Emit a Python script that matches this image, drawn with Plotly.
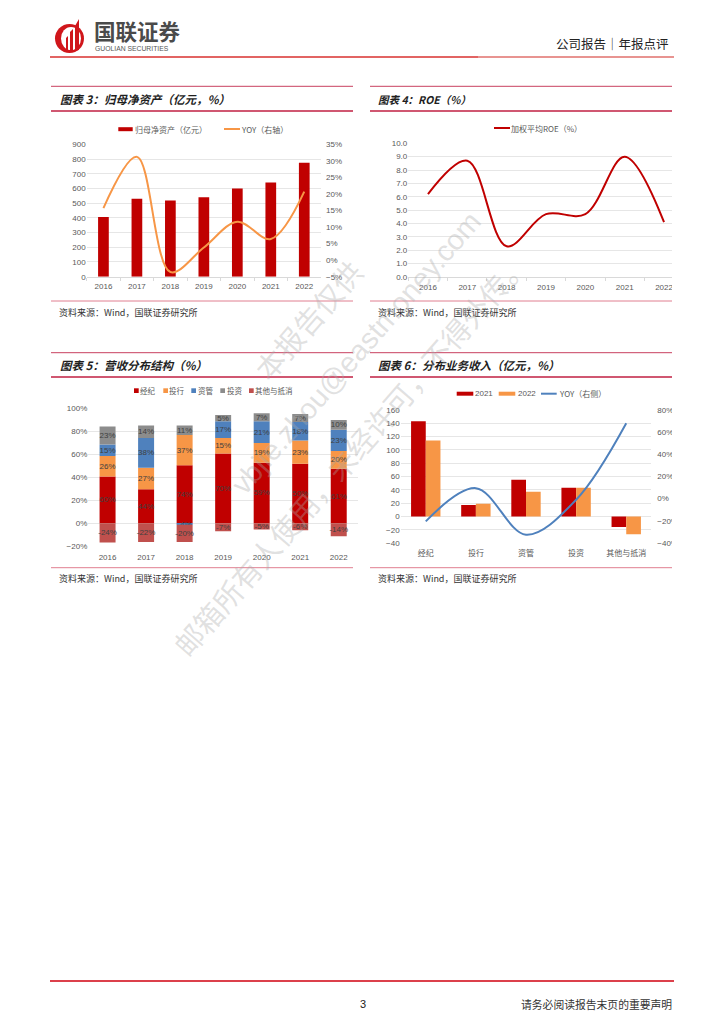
import plotly.graph_objects as go

W, H = 724, 1024
CJK = "Noto Sans CJK SC"
LAT = "Liberation Sans, Noto Sans CJK SC"
RED, ORANGE, BLUE, GRAY, ROSE = "#C00000", "#F79646", "#4F81BD", "#8C8C8C", "#C0504D"
TXT, GRID = "#595959", "#E6E6E6"

years = ["2016", "2017", "2018", "2019", "2020", "2021", "2022"]

# Chart 3
net_assets = [405, 530, 518, 540, 600, 640, 775]
net_assets_yoy = [15.7, 31.2, -3.6, 3.8, 11.6, 6.4, 20.7]
# Chart 4
roe = [6.2, 8.7, 2.3, 4.7, 4.7, 9.0, 4.1]
# Chart 5 (bar heights as drawn, and the labels printed on them)
s_brokerage = [40.6, 29.6, 50.4, 60.6, 52.5, 51.6, 47.2]
s_ib = [17.7, 18.5, 26.1, 13.3, 17.1, 20.3, 15.4]
s_am = [10.1, 25.8, -1.2, 14.5, 18.8, 15.9, 18.6]
s_inv = [15.6, 11.0, 8.4, 5.5, 7.0, 7.0, 8.4]
s_other = [-16.8, -16.2, -15.0, -7.0, -5.5, -6.0, -11.3]
l_brokerage = ["60%", "44%", "74%", "70%", "59%", "50%", "61%"]
l_ib = ["26%", "27%", "37%", "15%", "19%", "23%", "20%"]
l_am = ["15%", "38%", "-4%", "17%", "21%", "18%", "23%"]
l_inv = ["23%", "14%", "11%", "5%", "7%", "7%", "10%"]
l_other = ["-24%", "-22%", "-20%", "-7%", "-5%", "-6%", "-14%"]
# Chart 6
biz = ["经纪", "投行", "资管", "投资", "其他与抵消"]
rev_2021 = [143, 17, 55, 43, -16]
rev_2022 = [114, 19, 37, 43, -27]
rev_yoy = [-20.5, 9.5, -32.5, -1.0, 68.0]


def X(p):
    return p / W


def Y(p):
    return 1 - p / H


fig = go.Figure()

# ---------- Chart 3
fig.add_trace(go.Bar(x=years, y=net_assets, name="归母净资产（亿元）", marker_color=RED, width=0.32,
                     xaxis="x", yaxis="y"))
fig.add_trace(go.Scatter(x=years, y=net_assets_yoy, name="YOY（右轴）", mode="lines",
                         line=dict(color=ORANGE, width=2, shape="spline", smoothing=1.0),
                         xaxis="x", yaxis="y2"))
# ---------- Chart 4
fig.add_trace(go.Scatter(x=years, y=roe, name="加权平均ROE（%）", mode="lines",
                         line=dict(color=RED, width=2, shape="spline", smoothing=1.0),
                         xaxis="x3", yaxis="y3"))
# ---------- Chart 5
for nm, vals, labs, col in [("经纪", s_brokerage, l_brokerage, RED),
                            ("投行", s_ib, l_ib, ORANGE),
                            ("资管", s_am, l_am, BLUE),
                            ("投资", s_inv, l_inv, GRAY),
                            ("其他与抵消", s_other, l_other, ROSE)]:
    fig.add_trace(go.Bar(x=years, y=vals, name=nm, marker_color=col, text=labs, width=0.415,
                         textposition="inside", insidetextanchor="middle", textangle=0,
                         constraintext="none", cliponaxis=False,
                         insidetextfont=dict(family=LAT, size=8, color="#404040"),
                         xaxis="x4", yaxis="y4"))
# ---------- Chart 6 (each year on its own overlaid axis so the bars sit side by side)
fig.add_trace(go.Bar(x=biz, y=rev_2021, name="2021", marker_color=RED, width=0.293, offset=-0.293,
                     xaxis="x5", yaxis="y5"))
fig.add_trace(go.Bar(x=biz, y=rev_2022, name="2022", marker_color=ORANGE, width=0.293, offset=0,
                     xaxis="x5", yaxis="y6"))
fig.add_trace(go.Scatter(x=biz, y=rev_yoy, name="YOY（右侧）", mode="lines",
                         line=dict(color=BLUE, width=2, shape="spline", smoothing=1.0),
                         xaxis="x5", yaxis="y7"))

tick = dict(family=LAT, size=8, color=TXT)


def xax(x0, x1, n, **kw):
    d = dict(domain=[X(x0), X(x1)], anchor=kw.pop("anchor"), type="category", tickfont=tick,
             range=[-0.5, n - 0.5], autorange=False,
             showgrid=False, zeroline=False, showline=True, linecolor="#D9D9D9", linewidth=1,
             automargin=False)
    d.update(kw)
    return d


def yax(top, bot, rng, dt, **kw):
    d = dict(domain=[Y(bot), Y(top)], range=rng, dtick=dt, tick0=rng[0], tickfont=tick,
             showgrid=True, gridcolor=GRID, gridwidth=1, zeroline=False, showline=False,
             ticks="", automargin=False)
    d.update(kw)
    return d


layout = dict(
    template="none",
    width=W, height=H, margin=dict(l=0, r=0, t=0, b=0, pad=0), autosize=False,
    paper_bgcolor="white", plot_bgcolor="rgba(0,0,0,0)", showlegend=False,
    barmode="relative", font=dict(family=CJK, color=TXT),
    xaxis=xax(86.7, 321, 7, anchor="y", ticks="outside", tickson="boundaries",
              ticklen=3, tickcolor="#D9D9D9", ticklabelstandoff=2),
    yaxis=yax(144.3, 276.7, [0, 900], 100, anchor="x"),
    yaxis2=yax(144.3, 276.7, [-5, 35], 5, anchor="x", overlaying="y", side="right",
               showgrid=False, ticksuffix="%", ticklabelstandoff=4),
    xaxis3=xax(408.3, 683.7, 7, anchor="y3", ticks="outside", tickson="boundaries",
               ticklen=3, tickcolor="#D9D9D9", ticklabelstandoff=2),
    yaxis3=yax(143.3, 277, [0, 10], 1, anchor="x3", tickformat=".1f"),
    xaxis4=xax(88.3, 358, 7, anchor="y4", showline=False, ticklabelstandoff=5),
    yaxis4=yax(408, 546.3, [-20, 100], 20, anchor="x4", ticksuffix="%"),
    xaxis5=xax(400.7, 651.3, 5, anchor="y5", showline=False, ticklabelstandoff=4,
               tickfont=dict(family=CJK, size=8, color=TXT)),
    yaxis5=yax(410, 543, [-40, 160], 20, anchor="x5"),
    yaxis6=yax(410, 543, [-40, 160], 20, anchor="x5", overlaying="y5", showgrid=False,
               showticklabels=False),
    yaxis7=yax(410, 543, [-40, 80], 20, anchor="x5", overlaying="y5", side="right",
               showgrid=False, ticksuffix="%", ticklabelstandoff=5),
)
fig.update_layout(**layout)

shapes = []
ann = []


def hline(x0, x1, y, color, w, layer="below"):
    shapes.append(dict(type="line", xref="paper", yref="paper", x0=X(x0), x1=X(x1), y0=Y(y), y1=Y(y),
                       line=dict(color=color, width=w), layer=layer))


def rect(x0, x1, y0, y1, color, layer="above"):
    shapes.append(dict(type="rect", xref="paper", yref="paper", x0=X(x0), x1=X(x1), y0=Y(y1), y1=Y(y0),
                       fillcolor=color, line=dict(width=0), layer=layer))


def text(x, y, s, size, color="#222222", anchor="left", family=CJK, angle=0):
    ann.append(dict(xref="paper", yref="paper", x=X(x), y=Y(y), text=s, showarrow=False,
                    xanchor=anchor, yanchor="middle", textangle=angle, borderpad=0, borderwidth=0,
                    font=dict(family=family, size=size, color=color)))


hline(50, 478, 57, "#D9312F", 1.5)
hline(478, 674, 57, "#E0706C", 1.5)
hline(50, 674, 981, "#D0000F", 1.5)
for x0, x1, t, b, s in [(51, 353, 86.3, 111, 301), (370, 672, 86.3, 111, 301),
                        (51, 353, 352.7, 377, 567.7), (370, 672, 352.7, 377, 567.7)]:
    hline(x0, x1, t, "#C8405F", 1)
    hline(x0, x1, b, "#C01F42", 1.3)
    hline(x0, x1, s, "#E07F90", 1)

# Mask that trims chart 4 and chart 6 at the panel's right edge, as in the page
rect(672, 700, 135, 300, "white")
rect(672, 700, 400, 560, "white")

# Legends
rect(118.3, 132.7, 127.2, 131.2, RED)
text(135, 129, "归母净资产（亿元）", 8, TXT)
hline(224, 240, 129, ORANGE, 2, "above")
text(241, 129, "YOY（右轴）", 8, TXT)

hline(494, 510, 128, RED, 2, "above")
text(511, 128, "加权平均ROE（%）", 8, TXT)

for x0, tx, nm, col in [(134, 140, "经纪", RED), (163.3, 169.3, "投行", ORANGE),
                        (191.3, 197.7, "资管", BLUE), (220.3, 226.7, "投资", GRAY),
                        (249, 255.3, "其他与抵消", ROSE)]:
    rect(x0, x0 + 4.7, 388.3, 393, col)
    text(tx, 390.7, nm, 7.5, TXT)

rect(456.7, 473.3, 391.7, 395.7, RED)
text(475, 393.7, "2021", 8, TXT, family="Liberation Sans")
rect(498.7, 515.3, 391.7, 395.7, ORANGE)
text(517.7, 393.7, "2022", 8, TXT, family="Liberation Sans")
hline(541, 556.7, 393.7, BLUE, 2, "above")
text(559, 393.7, "YOY（右侧）", 8, TXT)


def logo_pts(pts):
    return "M" + " L".join(f"{X(a):.5f},{Y(b):.5f}" for a, b in pts) + " Z"


shapes.append(dict(type="circle", xref="paper", yref="paper", x0=X(55), x1=X(84), y0=Y(53), y1=Y(24),
                   fillcolor="#D0161B", line=dict(width=0)))
shapes.append(dict(type="circle", xref="paper", yref="paper", x0=X(61), x1=X(81), y0=Y(50), y1=Y(27),
                   fillcolor="white", line=dict(width=0)))
for pts in [[(66, 50), (68, 50), (68, 36), (66, 38)],
            [(70, 51), (73, 51), (73, 29), (70, 32)],
            [(75, 51), (79, 50), (79, 19), (75, 26)]]:
    shapes.append(dict(type="path", xref="paper", yref="paper", path=logo_pts(pts),
                       fillcolor="#D0161B", line=dict(width=0)))
fig.update_layout(shapes=shapes)

text(94, 33, "<b>国联证券</b>", 21.5, "#4A4A4A", family=LAT)
text(95, 48.5, "GUOLIAN SECURITIES", 6.8, "#555555", family="Liberation Sans")
text(669, 43, "公司报告│年报点评", 12.5, "#222222", anchor="right")
for x, y, s, z in [(60, 99, "图表 3：归母净资产（亿元，%）", 11.5), (378, 99, "图表 4：ROE（%）", 10.5),
                   (60, 365, "图表 5：营收分布结构（%）", 11.5), (378, 365, "图表 6：分布业务收入（亿元，%）", 11.5)]:
    text(x, y, f"<b><i>{s}</i></b>", z, "#1F1F1F")
for x, y in [(59, 312), (378, 312), (59, 578), (378, 578)]:
    text(x, y, "资料来源：Wind，国联证券研究所", 9, "#333333")
text(363, 1004, "3", 11, "#222222", anchor="center", family="Liberation Sans")
text(672, 1004, "请务必阅读报告末页的重要声明", 10.8, "#333333", anchor="right")

WM = "rgba(170,170,170,0.36)"
text(307, 320, "本报告仅供", 29, WM, anchor="center", angle=-49)
text(356, 353, "vbjie.zhou@eastmoney.com", 29, WM, anchor="center", angle=-49, family="Liberation Sans")
text(350, 453, "邮箱所有人使用，未经许可，不得外传。", 29, WM, anchor="center", angle=-49)
fig.update_layout(annotations=ann)

fig.write_html("out.html", config=dict(displayModeBar=False),
               post_script="document.body.style.margin='0';")
